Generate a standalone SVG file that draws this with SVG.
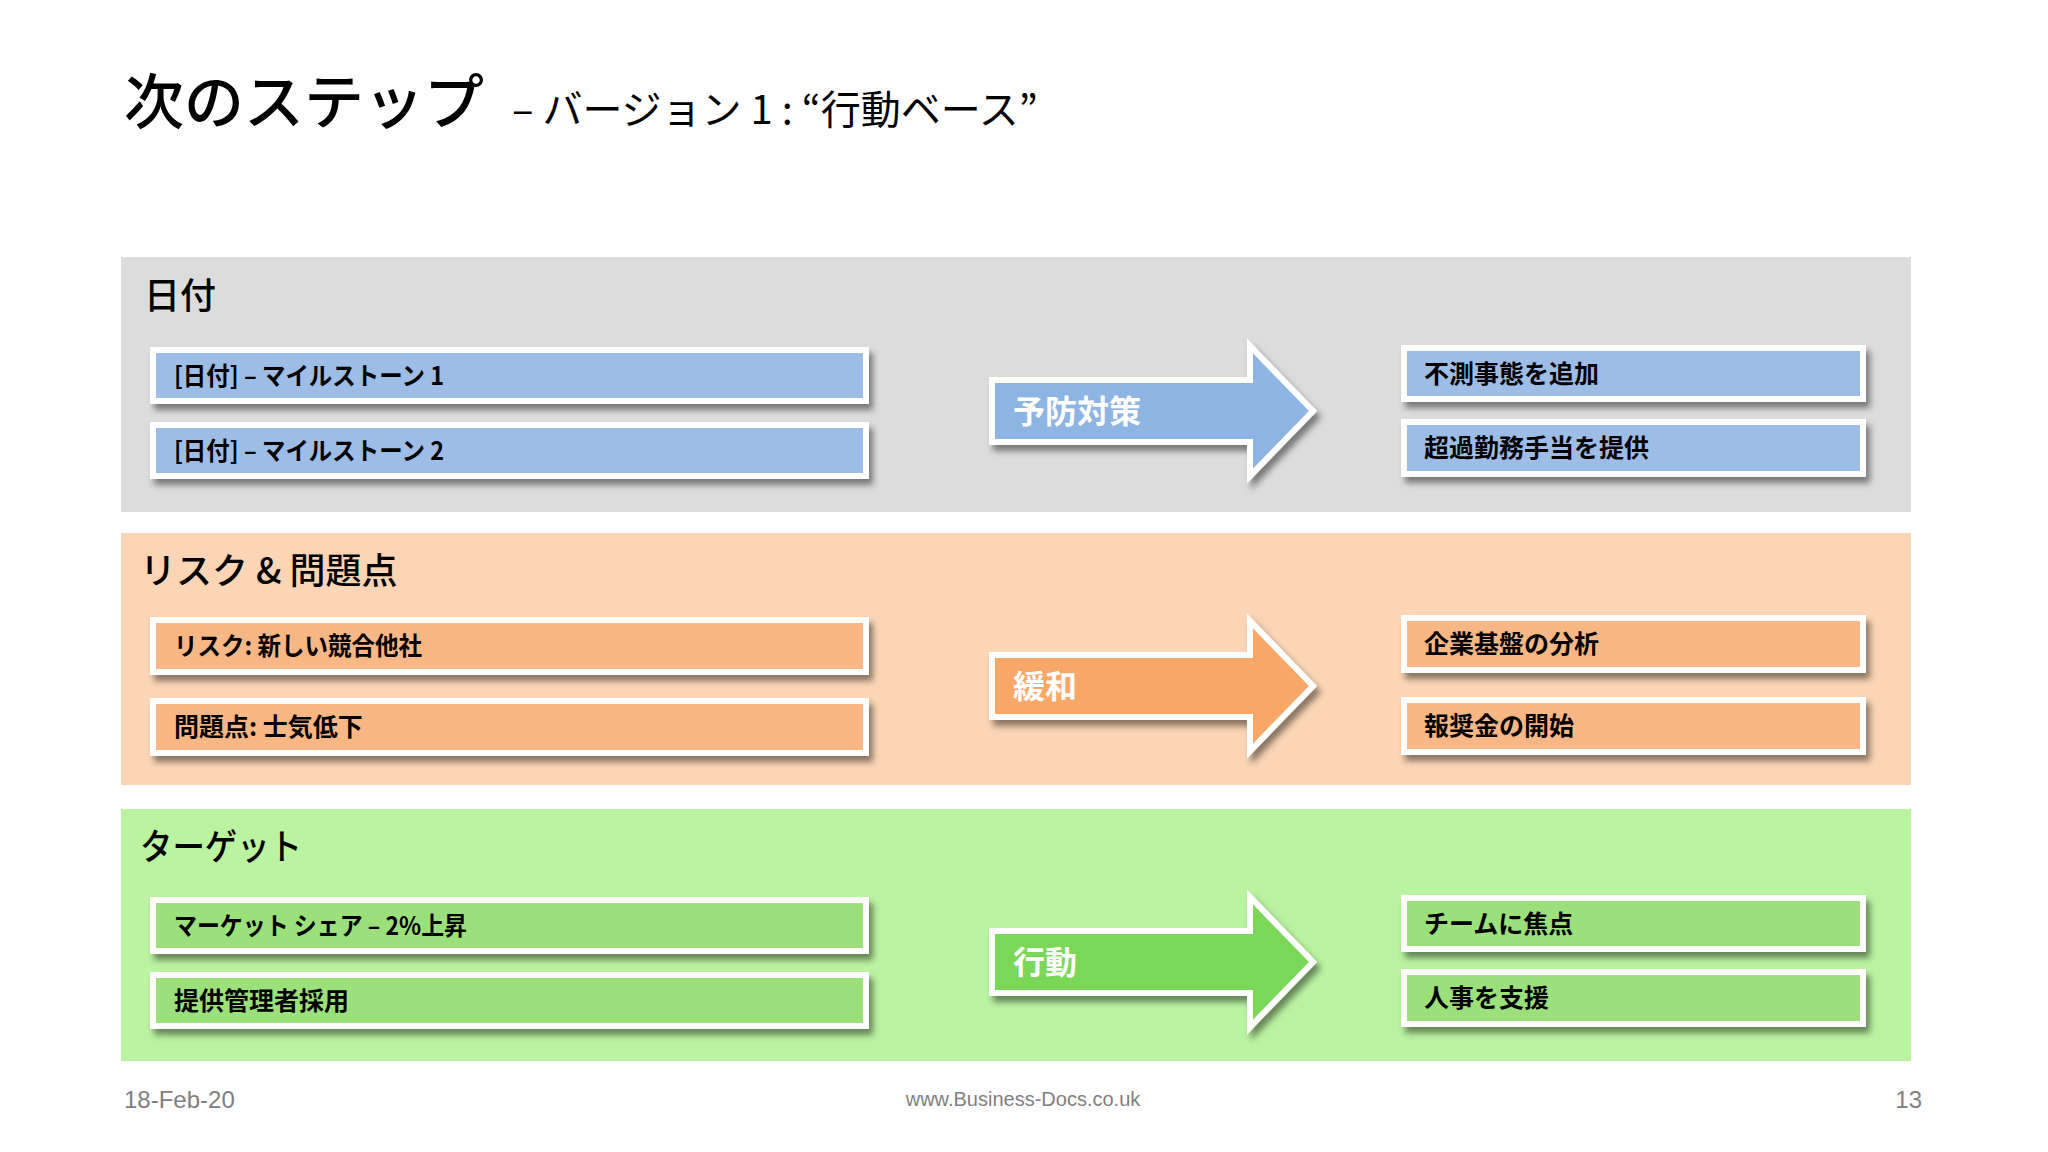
<svg xmlns="http://www.w3.org/2000/svg" width="2048" height="1152" viewBox="0 0 2048 1152">
<defs>
<filter id="sh" x="-10%" y="-30%" width="125%" height="180%">
<feDropShadow dx="4" dy="6" stdDeviation="3" flood-color="#000" flood-opacity="0.45"/>
</filter>
<style>
.jp{font-family:"Noto Sans CJK JP","Noto Sans",sans-serif}
.title{font-size:60px;font-weight:500;fill:#000}
.sub{font-size:40px;font-weight:400;fill:#000}
.hdr{font-size:36px;font-weight:500;fill:#000}
.bt{font-size:25px;font-weight:700;fill:#000}
.at{font-size:32px;font-weight:700;fill:#fff}
.box{stroke:#fff;stroke-width:6;filter:url(#sh)}
.arr{stroke:#fff;stroke-width:6;stroke-linejoin:miter;filter:url(#sh)}
.b1{fill:#9dbde6}.a1{fill:#8eb4e3}
.b2{fill:#f8b784}.a2{fill:#f7a869}
.b3{fill:#9ce07c}.a3{fill:#7ad758}
.ft{font-family:"Liberation Sans",Arial,sans-serif;fill:#7f7f7f}
</style>
</defs>
<rect width="2048" height="1152" fill="#fff"/>
<g id="title">
<text class="jp title" x="124" y="124">次のステップ</text>
<text class="jp sub" x="512" y="124">– バージョン 1 : “行動ベース”</text>
</g>
<g id="band-date">
<rect x="121" y="257" width="1790" height="255" fill="#dcdcdc"/>
<text class="jp hdr" x="144" y="309">日付</text>
</g>
<g id="band-risk">
<rect x="121" y="533" width="1790" height="252" fill="#fbd5b5"/>
<text class="jp hdr" x="140" y="584">リスク &amp; 問題点</text>
</g>
<g id="band-target">
<rect x="121" y="809" width="1790" height="252" fill="#bbf3a1"/>
<text class="jp hdr" x="140" y="860" textLength="162" lengthAdjust="spacingAndGlyphs">ターゲット</text>
</g>
<g id="node-milestone1"><rect class="box b1" x="153" y="350" width="713" height="51"/><text class="jp bt" x="174" y="385" textLength="270" lengthAdjust="spacingAndGlyphs">[日付] – マイルストーン 1</text></g>
<g id="node-milestone2"><rect class="box b1" x="153" y="425" width="713" height="51"/><text class="jp bt" x="174" y="460" textLength="270" lengthAdjust="spacingAndGlyphs">[日付] – マイルストーン 2</text></g>
<g id="node-contingency"><rect class="box b1" x="1404" y="348" width="459" height="51"/><text class="jp bt" x="1424" y="383">不測事態を追加</text></g>
<g id="node-overtime"><rect class="box b1" x="1404" y="422" width="459" height="52"/><text class="jp bt" x="1424" y="457">超過勤務手当を提供</text></g>
<g id="node-risk"><rect class="box b2" x="153" y="620" width="713" height="52"/><text class="jp bt" x="174" y="655" textLength="248" lengthAdjust="spacingAndGlyphs">リスク: 新しい競合他社</text></g>
<g id="node-issue"><rect class="box b2" x="153" y="701" width="713" height="52"/><text class="jp bt" x="174" y="736">問題点: 士気低下</text></g>
<g id="node-analysis"><rect class="box b2" x="1404" y="618" width="459" height="52"/><text class="jp bt" x="1424" y="653">企業基盤の分析</text></g>
<g id="node-bonus"><rect class="box b2" x="1404" y="700" width="459" height="52"/><text class="jp bt" x="1424" y="735">報奨金の開始</text></g>
<g id="node-share"><rect class="box b3" x="153" y="900" width="713" height="51"/><text class="jp bt" x="174" y="935" textLength="293" lengthAdjust="spacingAndGlyphs">マーケット シェア – 2%上昇</text></g>
<g id="node-hire"><rect class="box b3" x="153" y="975" width="713" height="51"/><text class="jp bt" x="174" y="1010">提供管理者採用</text></g>
<g id="node-team"><rect class="box b3" x="1404" y="898" width="459" height="51"/><text class="jp bt" x="1424" y="933">チームに焦点</text></g>
<g id="node-hr"><rect class="box b3" x="1404" y="972" width="459" height="52"/><text class="jp bt" x="1424" y="1007">人事を支援</text></g>
<g id="connectors">
<g id="arrow-prevent">
<polygon class="arr a1" points="992,380 1250,380 1250,346 1313,411 1250,476 1250,442 992,442"/>
<text class="jp at" x="1013" y="423">予防対策</text>
</g>
<g id="arrow-mitigate">
<polygon class="arr a2" points="992,655 1250,655 1250,621 1313,686 1250,751 1250,717 992,717"/>
<text class="jp at" x="1013" y="698">緩和</text>
</g>
<g id="arrow-action">
<polygon class="arr a3" points="992,931 1250,931 1250,897 1313,962 1250,1027 1250,993 992,993"/>
<text class="jp at" x="1013" y="974">行動</text>
</g>
</g>
<g id="footer">
<text class="ft" x="124" y="1108" font-size="24">18-Feb-20</text>
<text class="ft" x="1023" y="1106" font-size="20" text-anchor="middle">www.Business-Docs.co.uk</text>
<text class="ft" x="1922" y="1108" font-size="24" text-anchor="end">13</text>
</g>
</svg>
